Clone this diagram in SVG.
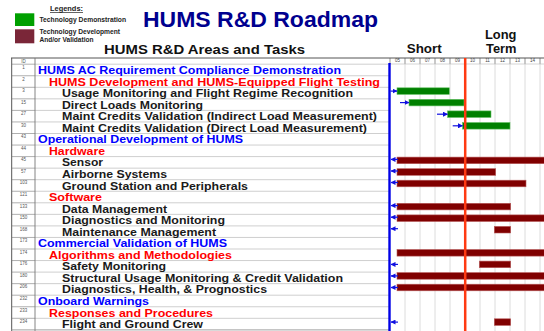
<svg xmlns="http://www.w3.org/2000/svg" width="544" height="331" viewBox="0 0 544 331">
  <style>
    text { font-family: "Liberation Sans", Arial, sans-serif; font-weight: bold; }
    .title { font-size: 22px; fill: #00008f; }
    .head { font-size: 13px; fill: #111; }
    .lg { font-size: 7px; fill: #222; }
    .id { font-size: 4.5px; fill: #555; font-weight: normal; text-anchor: middle; }
    .yr { font-size: 4.5px; fill: #444; font-weight: normal; text-anchor: middle; }
    .t0 { font-size: 11px; fill: #0000ff; }
    .t1 { font-size: 11px; fill: #ff0000; }
    .t2 { font-size: 11px; fill: #1a1a1a; }
    .rowline { stroke: #cfcfcf; stroke-width: 1; }
    .idline { stroke: #9a9a9a; stroke-width: 0.8; }
    .grid { stroke: #dcdcdc; stroke-width: 1; }
    .tick { stroke: #666; stroke-width: 0.7; }
    .demo { fill: #008000; stroke: #66c266; stroke-width: 0.6; }
    .dev { fill: #800000; stroke: #b85a5a; stroke-width: 0.6; }
    .link { stroke: #1010e0; stroke-width: 1.2; fill: none; marker-end: url(#ah); }
  </style>
  <defs>
    <marker id="ah" markerUnits="userSpaceOnUse" markerWidth="5" markerHeight="5" refX="4.5" refY="2.5" orient="auto">
      <path d="M0,0 L5,2.5 L0,5 Z" fill="#1010e0"/>
    </marker>
  </defs>

  <rect width="544" height="331" fill="#ffffff"/>

  <!-- legend -->
  <g id="legend">
    <text x="50" y="11" class="lg" text-decoration="underline" textLength="33" lengthAdjust="spacingAndGlyphs">Legends:</text>
    <rect x="15" y="13.3" width="19.3" height="12.7" fill="#00a000"/>
    <text x="39.5" y="22" class="lg" textLength="86.5" lengthAdjust="spacingAndGlyphs">Technology Demonstration</text>
    <rect x="15" y="29.3" width="19.3" height="14" fill="#7a2638"/>
    <text x="39.5" y="34" class="lg" textLength="80.5" lengthAdjust="spacingAndGlyphs">Technology Development</text>
    <text x="39.5" y="41.5" class="lg" textLength="54" lengthAdjust="spacingAndGlyphs">And/or Validation</text>
  </g>

  <!-- titles -->
  <g id="titles">
    <text x="143" y="26.5" class="title" textLength="235" lengthAdjust="spacingAndGlyphs">HUMS R&amp;D Roadmap</text>
    <text x="104" y="53.5" class="head" textLength="201" lengthAdjust="spacingAndGlyphs">HUMS R&amp;D Areas and Tasks</text>
    <text x="406.7" y="52.5" class="head" textLength="35" lengthAdjust="spacingAndGlyphs">Short</text>
    <text x="485" y="38.7" class="head" textLength="31.5" lengthAdjust="spacingAndGlyphs">Long</text>
    <text x="486" y="52.5" class="head" textLength="30.5" lengthAdjust="spacingAndGlyphs">Term</text>
  </g>

  <!-- table grid -->
  <g id="grid">
    <!-- time columns -->
    <g class="grid">
      <line x1="405" y1="64" x2="405" y2="331"/><line x1="420" y1="64" x2="420" y2="331"/>
      <line x1="435" y1="64" x2="435" y2="331"/><line x1="450" y1="64" x2="450" y2="331"/>
      <line x1="480" y1="64" x2="480" y2="331"/><line x1="495" y1="64" x2="495" y2="331"/>
      <line x1="510" y1="64" x2="510" y2="331"/><line x1="525" y1="64" x2="525" y2="331"/>
      <line x1="540" y1="64" x2="540" y2="331"/>
    </g>
    <!-- header ticks -->
    <g class="tick">
      <line x1="390" y1="58" x2="390" y2="64"/><line x1="405" y1="58" x2="405" y2="64"/>
      <line x1="420" y1="58" x2="420" y2="64"/><line x1="435" y1="58" x2="435" y2="64"/>
      <line x1="450" y1="58" x2="450" y2="64"/><line x1="480" y1="58" x2="480" y2="64"/>
      <line x1="495" y1="58" x2="495" y2="64"/><line x1="510" y1="58" x2="510" y2="64"/>
      <line x1="525" y1="58" x2="525" y2="64"/><line x1="540" y1="58" x2="540" y2="64"/>
    </g>
    <line x1="11" y1="58" x2="544" y2="58" stroke="#555" stroke-width="1"/>
    <line x1="390" y1="64" x2="544" y2="64" stroke="#bbb" stroke-width="0.6"/>
    <!-- task rows -->
    <g class="rowline">
      <line x1="35" y1="64.2" x2="389" y2="64.2"/><line x1="35" y1="75.75" x2="389" y2="75.75"/>
      <line x1="35" y1="87.3" x2="389" y2="87.3"/><line x1="35" y1="98.85" x2="389" y2="98.85"/>
      <line x1="35" y1="110.4" x2="389" y2="110.4"/><line x1="35" y1="121.95" x2="389" y2="121.95"/>
      <line x1="35" y1="133.5" x2="389" y2="133.5"/><line x1="35" y1="145.05" x2="389" y2="145.05"/>
      <line x1="35" y1="156.6" x2="389" y2="156.6"/><line x1="35" y1="168.15" x2="389" y2="168.15"/>
      <line x1="35" y1="179.7" x2="389" y2="179.7"/><line x1="35" y1="191.25" x2="389" y2="191.25"/>
      <line x1="35" y1="202.8" x2="389" y2="202.8"/><line x1="35" y1="214.35" x2="389" y2="214.35"/>
      <line x1="35" y1="225.9" x2="389" y2="225.9"/><line x1="35" y1="237.45" x2="389" y2="237.45"/>
      <line x1="35" y1="249" x2="389" y2="249"/><line x1="35" y1="260.55" x2="389" y2="260.55"/>
      <line x1="35" y1="272.1" x2="389" y2="272.1"/><line x1="35" y1="283.65" x2="389" y2="283.65"/>
      <line x1="35" y1="295.2" x2="389" y2="295.2"/><line x1="35" y1="306.75" x2="389" y2="306.75"/>
      <line x1="35" y1="318.3" x2="389" y2="318.3"/>
    </g>
    <!-- id column rows -->
    <g class="idline">
      <line x1="12" y1="64.2" x2="35" y2="64.2"/><line x1="12" y1="75.75" x2="35" y2="75.75"/>
      <line x1="12" y1="87.3" x2="35" y2="87.3"/><line x1="12" y1="98.85" x2="35" y2="98.85"/>
      <line x1="12" y1="110.4" x2="35" y2="110.4"/><line x1="12" y1="121.95" x2="35" y2="121.95"/>
      <line x1="12" y1="133.5" x2="35" y2="133.5"/><line x1="12" y1="145.05" x2="35" y2="145.05"/>
      <line x1="12" y1="156.6" x2="35" y2="156.6"/><line x1="12" y1="168.15" x2="35" y2="168.15"/>
      <line x1="12" y1="179.7" x2="35" y2="179.7"/><line x1="12" y1="191.25" x2="35" y2="191.25"/>
      <line x1="12" y1="202.8" x2="35" y2="202.8"/><line x1="12" y1="214.35" x2="35" y2="214.35"/>
      <line x1="12" y1="225.9" x2="35" y2="225.9"/><line x1="12" y1="237.45" x2="35" y2="237.45"/>
      <line x1="12" y1="249" x2="35" y2="249"/><line x1="12" y1="260.55" x2="35" y2="260.55"/>
      <line x1="12" y1="272.1" x2="35" y2="272.1"/><line x1="12" y1="283.65" x2="35" y2="283.65"/>
      <line x1="12" y1="295.2" x2="35" y2="295.2"/><line x1="12" y1="306.75" x2="35" y2="306.75"/>
      <line x1="12" y1="318.3" x2="35" y2="318.3"/>
    </g>
    <line x1="11.7" y1="58" x2="11.7" y2="331" stroke="#555" stroke-width="1"/>
    <line x1="35" y1="58" x2="35" y2="331" stroke="#777" stroke-width="0.9"/>
    <line x1="11" y1="329.9" x2="390" y2="329.9" stroke="#888" stroke-width="0.8"/>
    <!-- year labels -->
    <text x="397.5" y="62" class="yr">05</text><text x="412.5" y="62" class="yr">06</text>
    <text x="427.5" y="62" class="yr">07</text><text x="442.5" y="62" class="yr">08</text>
    <text x="457.5" y="62" class="yr">09</text><text x="472.5" y="62" class="yr">10</text>
    <text x="487.5" y="62" class="yr">11</text><text x="502.5" y="62" class="yr">12</text>
    <text x="517.5" y="62" class="yr">13</text><text x="532.5" y="62" class="yr">14</text>
    <text x="23.5" y="62.5" class="id">ID</text>
  </g>

  <!-- task rows: id + name -->
  <g id="task-1"><text x="23.5" y="69" class="id">1</text><text x="38" y="74" class="t0" textLength="303" lengthAdjust="spacingAndGlyphs">HUMS AC Requirement Compliance Demonstration</text></g>
  <g id="task-2"><text x="23.5" y="80.5" class="id">2</text><text x="49" y="85.55" class="t1" textLength="331" lengthAdjust="spacingAndGlyphs">HUMS Development and HUMS-Equipped Flight Testing</text></g>
  <g id="task-3"><text x="23.5" y="92" class="id">3</text><text x="62" y="97.1" class="t2" textLength="291" lengthAdjust="spacingAndGlyphs">Usage Monitoring and Flight Regime Recognition</text></g>
  <g id="task-15"><text x="23.5" y="103.6" class="id">15</text><text x="62" y="108.65" class="t2" textLength="141" lengthAdjust="spacingAndGlyphs">Direct Loads Monitoring</text></g>
  <g id="task-27"><text x="23.5" y="115.1" class="id">27</text><text x="62" y="120.2" class="t2" textLength="315" lengthAdjust="spacingAndGlyphs">Maint Credits Validation (Indirect Load Measurement)</text></g>
  <g id="task-30"><text x="23.5" y="126.7" class="id">30</text><text x="62" y="131.75" class="t2" textLength="305" lengthAdjust="spacingAndGlyphs">Maint Credits Validation (Direct Load Measurement)</text></g>
  <g id="task-43"><text x="23.5" y="138.2" class="id">43</text><text x="38" y="143.3" class="t0" textLength="205" lengthAdjust="spacingAndGlyphs">Operational Development of HUMS</text></g>
  <g id="task-44"><text x="23.5" y="149.8" class="id">44</text><text x="49" y="154.85" class="t1" textLength="56" lengthAdjust="spacingAndGlyphs">Hardware</text></g>
  <g id="task-45"><text x="23.5" y="161.3" class="id">45</text><text x="62" y="166.4" class="t2" textLength="41" lengthAdjust="spacingAndGlyphs">Sensor</text></g>
  <g id="task-57"><text x="23.5" y="172.9" class="id">57</text><text x="62" y="177.95" class="t2" textLength="105" lengthAdjust="spacingAndGlyphs">Airborne Systems</text></g>
  <g id="task-103"><text x="23.5" y="184.4" class="id">103</text><text x="62" y="189.5" class="t2" textLength="186" lengthAdjust="spacingAndGlyphs">Ground Station and Peripherals</text></g>
  <g id="task-121"><text x="23.5" y="196" class="id">121</text><text x="49" y="201.05" class="t1" textLength="53" lengthAdjust="spacingAndGlyphs">Software</text></g>
  <g id="task-133"><text x="23.5" y="207.5" class="id">133</text><text x="62" y="212.6" class="t2" textLength="105" lengthAdjust="spacingAndGlyphs">Data Management</text></g>
  <g id="task-150"><text x="23.5" y="219.1" class="id">150</text><text x="62" y="224.15" class="t2" textLength="163" lengthAdjust="spacingAndGlyphs">Diagnostics and Monitoring</text></g>
  <g id="task-168"><text x="23.5" y="230.6" class="id">168</text><text x="62" y="235.7" class="t2" textLength="154" lengthAdjust="spacingAndGlyphs">Maintenance Management</text></g>
  <g id="task-173"><text x="23.5" y="242.2" class="id">173</text><text x="38" y="247.25" class="t0" textLength="189" lengthAdjust="spacingAndGlyphs">Commercial Validation of HUMS</text></g>
  <g id="task-174"><text x="23.5" y="253.7" class="id">174</text><text x="49" y="258.8" class="t1" textLength="183" lengthAdjust="spacingAndGlyphs">Algorithms and Methodologies</text></g>
  <g id="task-176"><text x="23.5" y="265.3" class="id">176</text><text x="62" y="270.35" class="t2" textLength="104" lengthAdjust="spacingAndGlyphs">Safety Monitoring</text></g>
  <g id="task-180"><text x="23.5" y="276.8" class="id">180</text><text x="62" y="281.9" class="t2" textLength="281" lengthAdjust="spacingAndGlyphs">Structural Usage Monitoring &amp; Credit Validation</text></g>
  <g id="task-206"><text x="23.5" y="288.4" class="id">206</text><text x="62" y="293.45" class="t2" textLength="205" lengthAdjust="spacingAndGlyphs">Diagnostics, Health, &amp; Prognostics</text></g>
  <g id="task-232"><text x="23.5" y="299.9" class="id">232</text><text x="38" y="305" class="t0" textLength="111" lengthAdjust="spacingAndGlyphs">Onboard Warnings</text></g>
  <g id="task-233"><text x="23.5" y="311.5" class="id">233</text><text x="49" y="316.55" class="t1" textLength="164" lengthAdjust="spacingAndGlyphs">Responses and Procedures</text></g>
  <g id="task-234"><text x="23.5" y="323" class="id">234</text><text x="62" y="328.1" class="t2" textLength="141" lengthAdjust="spacingAndGlyphs">Flight and Ground Crew</text></g>

  <!-- schedule bars -->
  <g id="bars">
    <rect class="demo" x="397" y="87.8" width="52.3" height="6.6"/>
    <rect class="demo" x="409" y="99.3" width="55" height="6.6"/>
    <rect class="demo" x="447.5" y="110.9" width="43.5" height="6.6"/>
    <rect class="demo" x="462.5" y="122.5" width="47.5" height="6.6"/>
    <rect class="dev" x="397" y="157.1" width="148" height="6.6"/>
    <rect class="dev" x="397" y="168.7" width="98.7" height="6.6"/>
    <rect class="dev" x="397" y="180.2" width="129" height="6.6"/>
    <rect class="dev" x="397" y="203.3" width="113.7" height="6.6"/>
    <rect class="dev" x="397" y="214.9" width="148" height="6.6"/>
    <rect class="dev" x="494.3" y="226.4" width="16.4" height="6.6"/>
    <rect class="dev" x="397" y="249.5" width="148" height="6.6"/>
    <rect class="dev" x="479.3" y="261.1" width="31.4" height="6.6"/>
    <rect class="dev" x="397" y="272.6" width="148" height="6.6"/>
    <rect class="dev" x="397" y="284.2" width="148" height="6.6"/>
    <rect class="dev" x="494.3" y="318.8" width="16.4" height="6.6"/>
  </g>

  <!-- markers: start line and status date -->
  <line x1="389.5" y1="63" x2="389.5" y2="331" stroke="#0000e6" stroke-width="2.4"/>
  <line x1="465.2" y1="58" x2="465.2" y2="331" stroke="#ff3a12" stroke-width="2.5"/>

  <!-- connectors -->
  <g id="connectors">
    <line class="link" x1="390.5" y1="91.1" x2="397" y2="91.1"/>
    <line class="link" x1="400" y1="102.6" x2="409" y2="102.6"/>
    <line class="link" x1="437" y1="114.2" x2="447.5" y2="114.2"/>
    <line class="link" x1="452.7" y1="125.8" x2="462.5" y2="125.8"/>
    <line class="link" x1="398" y1="159.4" x2="391" y2="159.4"/>
    <line class="link" x1="398" y1="171" x2="391" y2="171"/>
    <line class="link" x1="398" y1="182.5" x2="391" y2="182.5"/>
    <line class="link" x1="398" y1="205.6" x2="391" y2="205.6"/>
    <line class="link" x1="398" y1="217.2" x2="391" y2="217.2"/>
    <line class="link" x1="398" y1="228.7" x2="391" y2="228.7"/>
    <line class="link" x1="398" y1="264.4" x2="391" y2="264.4"/>
    <line class="link" x1="398" y1="275.9" x2="391" y2="275.9"/>
    <line class="link" x1="398" y1="287.5" x2="391" y2="287.5"/>
    <line class="link" x1="398" y1="322.1" x2="391" y2="322.1"/>
  </g>
</svg>
